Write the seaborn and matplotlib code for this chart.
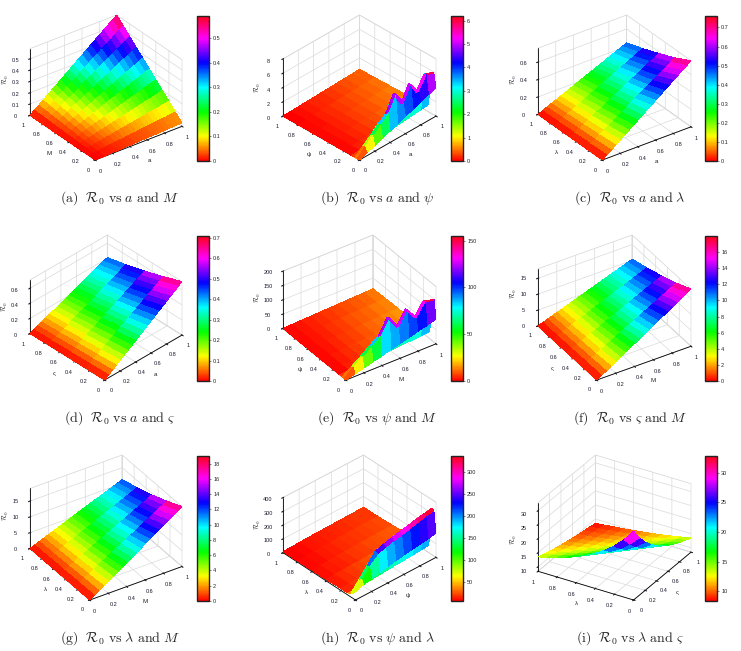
import itertools
import numpy as np
import matplotlib
matplotlib.use('Agg')
import matplotlib.pyplot as plt
import seaborn as sns
from mpl_toolkits.mplot3d import proj3d

sns.set_style('white')
plt.rcParams['mathtext.fontset'] = 'cm'
plt.rcParams['font.family'] = ['Liberation Sans', 'DejaVu Sans']
plt.rcParams['grid.color'] = '#dadada'
plt.rcParams['grid.linewidth'] = 0.5

W, H = 741, 651

# grids of the two inputs (right axis = x, left axis = y)
x21 = [0, 0.05, 0.1, 0.15, 0.2, 0.25, 0.3, 0.35, 0.4, 0.45, 0.5,
       0.55, 0.6, 0.65, 0.7, 0.75, 0.8, 0.85, 0.9, 0.95, 1.0]
x11 = [0, 0.1, 0.2, 0.3, 0.4, 0.5, 0.6, 0.7, 0.8, 0.9, 1.0]
y11 = [0, 0.1, 0.2, 0.3, 0.4, 0.5, 0.6, 0.7, 0.8, 0.9, 1.0]
y5 = [0, 0.25, 0.5, 0.75, 1.0]
y_steep = [0, 0.03, 0.06, 0.1, 0.2, 0.4, 0.6, 0.8, 1.0]

# R0 values (rows follow the y grid, columns the x grid)
z_a = [
    [0, .002, .003, .005, .006, .008, .009, .011, .012, .014, .015, .017, .018, .020, .021, .023, .024, .026, .027, .029, .030],
    [0, .004, .009, .013, .017, .022, .026, .030, .034, .039, .043, .047, .052, .056, .060, .065, .069, .073, .077, .082, .086],
    [0, .007, .014, .021, .028, .036, .043, .050, .057, .064, .071, .078, .085, .092, .099, .107, .114, .121, .128, .135, .142],
    [0, .010, .020, .030, .040, .050, .059, .069, .079, .089, .099, .109, .119, .129, .139, .149, .158, .168, .178, .188, .198],
    [0, .013, .025, .038, .051, .064, .076, .089, .102, .114, .127, .140, .152, .165, .178, .191, .203, .216, .229, .241, .254],
    [0, .016, .031, .047, .062, .078, .093, .109, .124, .140, .155, .171, .186, .202, .217, .233, .248, .264, .279, .295, .310],
    [0, .018, .037, .055, .073, .092, .110, .128, .146, .165, .183, .201, .220, .238, .256, .275, .293, .311, .329, .348, .366],
    [0, .021, .042, .063, .084, .106, .127, .148, .169, .190, .211, .232, .253, .274, .295, .317, .338, .359, .380, .401, .422],
    [0, .024, .048, .072, .096, .120, .143, .167, .191, .215, .239, .263, .287, .311, .335, .359, .382, .406, .430, .454, .478],
    [0, .027, .053, .080, .107, .134, .160, .187, .214, .240, .267, .294, .320, .347, .374, .401, .427, .454, .481, .507, .534],
    [0, .030, .059, .089, .118, .148, .177, .207, .236, .266, .295, .325, .354, .384, .413, .443, .472, .502, .531, .561, .590]]
z_b = [[0, 0.4, 0.8, 1.2, 1.6, 2.0, 2.4, 2.8, 3.2, 3.6, 4.0],
       [0, 1.0, 2.0, 3.0, 4.0, 6.0, 4.2, 6.1, 4.5, 6.2, 5.9],
       [0, 0.9, 1.8, 2.8, 3.6, 5.8, 3.8, 6.0, 4.2, 6.1, 5.7],
       [0, 0.1, 0.2, 0.3, 0.4, 0.5, 0.6, 0.7, 0.8, 0.9, 1.0],
       [0, 0.06, 0.13, 0.19, 0.26, 0.32, 0.38, 0.45, 0.51, 0.58, 0.64],
       [0, 0.06, 0.12, 0.17, 0.23, 0.29, 0.35, 0.41, 0.46, 0.52, 0.58],
       [0, 0.05, 0.10, 0.16, 0.21, 0.26, 0.31, 0.36, 0.42, 0.47, 0.52],
       [0, 0.05, 0.09, 0.14, 0.18, 0.23, 0.28, 0.32, 0.37, 0.41, 0.46],
       [0, 0.04, 0.08, 0.12, 0.16, 0.20, 0.24, 0.28, 0.32, 0.36, 0.40]]
z_c = [
    [0, .038, .076, .114, .152, .190, .228, .266, .304, .342, .380, .418, .456, .494, .532, .570, .608, .646, .684, .722, .760],
    [0, .033, .066, .099, .132, .165, .198, .231, .264, .297, .330, .363, .396, .429, .462, .495, .528, .561, .594, .627, .660],
    [0, .029, .058, .087, .116, .145, .174, .203, .232, .261, .290, .319, .348, .377, .406, .435, .464, .493, .522, .551, .580],
    [0, .025, .051, .076, .101, .126, .152, .177, .202, .227, .253, .278, .303, .328, .354, .379, .404, .429, .455, .480, .505],
    [0, .022, .044, .066, .088, .110, .132, .154, .176, .198, .220, .242, .264, .286, .308, .330, .352, .374, .396, .418, .440]]
z_d = [
    [0, .036, .071, .107, .142, .178, .213, .249, .284, .320, .355, .391, .426, .462, .497, .533, .568, .604, .639, .675, .710],
    [0, .031, .062, .093, .124, .155, .186, .217, .248, .279, .310, .341, .372, .403, .434, .465, .496, .527, .558, .589, .620],
    [0, .027, .054, .081, .108, .135, .162, .189, .216, .243, .270, .297, .324, .351, .378, .405, .432, .459, .486, .513, .540],
    [0, .024, .047, .071, .094, .118, .141, .165, .188, .212, .235, .259, .282, .306, .329, .353, .376, .400, .423, .447, .470],
    [0, .021, .041, .062, .082, .103, .123, .144, .164, .185, .205, .226, .246, .267, .287, .308, .328, .349, .369, .390, .410]]
z_e = [[0, 9, 17, 26, 34, 43, 52, 60, 69, 77, 86],
       [0, 25, 50, 75, 100, 150, 105, 152, 112, 155, 148],
       [0, 22, 45, 70, 92, 146, 98, 150, 105, 153, 143],
       [0, 2.5, 5, 7.5, 10, 12.5, 15, 17.5, 20, 22.5, 25],
       [0, 1.8, 3.7, 5.5, 7.4, 9.2, 11.0, 12.9, 14.7, 16.6, 18.4],
       [0, 1.7, 3.4, 5.0, 6.7, 8.4, 10.1, 11.8, 13.4, 15.1, 16.8],
       [0, 1.5, 3.0, 4.6, 6.1, 7.6, 9.1, 10.6, 12.2, 13.7, 15.2],
       [0, 1.4, 2.7, 4.1, 5.4, 6.8, 8.2, 9.5, 10.9, 12.2, 13.6],
       [0, 1.2, 2.4, 3.6, 4.8, 6.0, 7.2, 8.4, 9.6, 10.8, 12.0]]
z_f = [
    [0, 0.9, 1.8, 2.7, 3.6, 4.5, 5.4, 6.3, 7.2, 8.1, 9.0, 9.9, 10.8, 11.7, 12.6, 13.5, 14.4, 15.3, 16.2, 17.1, 18.0],
    [0, 0.78, 1.56, 2.34, 3.12, 3.90, 4.68, 5.46, 6.24, 7.02, 7.80, 8.58, 9.36, 10.14, 10.92, 11.70, 12.48, 13.26, 14.04, 14.82, 15.60],
    [0, 0.68, 1.36, 2.04, 2.72, 3.40, 4.08, 4.76, 5.44, 6.12, 6.80, 7.48, 8.16, 8.84, 9.52, 10.20, 10.88, 11.56, 12.24, 12.92, 13.60],
    [0, 0.60, 1.19, 1.79, 2.38, 2.98, 3.57, 4.17, 4.76, 5.36, 5.95, 6.55, 7.14, 7.74, 8.33, 8.93, 9.52, 10.12, 10.71, 11.31, 11.90],
    [0, 0.52, 1.04, 1.56, 2.08, 2.60, 3.12, 3.64, 4.16, 4.68, 5.20, 5.72, 6.24, 6.76, 7.28, 7.80, 8.32, 8.84, 9.36, 9.88, 10.40]]
z_g = [
    [0, 0.95, 1.9, 2.85, 3.8, 4.75, 5.7, 6.65, 7.6, 8.55, 9.5, 10.45, 11.4, 12.35, 13.3, 14.25, 15.2, 16.15, 17.1, 18.05, 19.0],
    [0, 0.83, 1.66, 2.49, 3.32, 4.15, 4.98, 5.81, 6.64, 7.47, 8.30, 9.13, 9.96, 10.79, 11.62, 12.45, 13.28, 14.11, 14.94, 15.77, 16.60],
    [0, 0.73, 1.45, 2.18, 2.90, 3.63, 4.35, 5.08, 5.80, 6.53, 7.25, 7.98, 8.70, 9.43, 10.15, 10.88, 11.60, 12.33, 13.05, 13.78, 14.50],
    [0, 0.64, 1.27, 1.91, 2.54, 3.18, 3.81, 4.45, 5.08, 5.72, 6.35, 6.99, 7.62, 8.26, 8.89, 9.53, 10.16, 10.80, 11.43, 12.07, 12.70],
    [0, 0.56, 1.12, 1.68, 2.24, 2.80, 3.36, 3.92, 4.48, 5.04, 5.60, 6.16, 6.72, 7.28, 7.84, 8.40, 8.96, 9.52, 10.08, 10.64, 11.20]]
z_h = [[60, 80, 95, 108, 120, 130, 140, 150, 158, 166, 175],
       [40, 110, 180, 230, 250, 265, 275, 290, 305, 320, 330],
       [30, 100, 170, 240, 260, 275, 290, 300, 315, 325, 335],
       [15, 18, 22, 26, 30, 34, 38, 42, 46, 50, 55],
       [15, 18, 21, 24, 27, 30, 33, 36, 39, 42, 45],
       [10, 13, 16, 18, 20, 22, 24, 26, 28, 30, 32],
       [9, 11, 13, 15, 17, 19, 21, 23, 24, 25, 26],
       [8, 10, 12, 14, 16, 17, 18, 19, 20, 21, 22],
       [8, 9, 11, 13, 14, 15, 16, 17, 18, 19, 20]]
z_i = [[32.8, 28.84, 25.62, 23.04, 20.93, 19.18, 17.70, 16.43, 15.33, 14.37, 13.52],
       [28.84, 25.62, 23.04, 20.93, 19.18, 17.70, 16.43, 15.33, 14.37, 13.52, 12.76],
       [25.62, 23.04, 20.93, 19.18, 17.70, 16.43, 15.33, 14.37, 13.52, 12.76, 12.09],
       [23.04, 20.93, 19.18, 17.70, 16.43, 15.33, 14.37, 13.52, 12.76, 12.09, 11.48],
       [20.93, 19.18, 17.70, 16.43, 15.33, 14.37, 13.52, 12.76, 12.09, 11.48, 10.94],
       [19.18, 17.70, 16.43, 15.33, 14.37, 13.52, 12.76, 12.09, 11.48, 10.94, 10.44],
       [17.70, 16.43, 15.33, 14.37, 13.52, 12.76, 12.09, 11.48, 10.94, 10.44, 9.98],
       [16.43, 15.33, 14.37, 13.52, 12.76, 12.09, 11.48, 10.94, 10.44, 9.98, 9.57],
       [15.33, 14.37, 13.52, 12.76, 12.09, 11.48, 10.94, 10.44, 9.98, 9.57, 9.18],
       [14.37, 13.52, 12.76, 12.09, 11.48, 10.94, 10.44, 9.98, 9.57, 9.18, 8.83],
       [13.52, 12.76, 12.09, 11.48, 10.94, 10.44, 9.98, 9.57, 9.18, 8.83, 8.4]]

tick01 = [0, 0.2, 0.4, 0.6, 0.8, 1]
zt_a = [0, 0.1, 0.2, 0.3, 0.4, 0.5]
ct_a = [0, 0.1, 0.2, 0.3, 0.4, 0.5]
zt_b = [0, 2, 4, 6, 8]
ct_b = [0, 1, 2, 3, 4, 5, 6]
zt_c = [0, 0.2, 0.4, 0.6]
ct_c = [0, 0.1, 0.2, 0.3, 0.4, 0.5, 0.6, 0.7]
zt_e = [0, 50, 100, 150, 200]
ct_e = [0, 50, 100, 150]
zt_f = [0, 5, 10, 15]
ct_f = [0, 2, 4, 6, 8, 10, 12, 14, 16]
ct_g = [0, 2, 4, 6, 8, 10, 12, 14, 16, 18]
zt_h = [0, 100, 200, 300, 400]
ct_h = [50, 100, 150, 200, 250, 300]
zt_i = [10, 15, 20, 25, 30]

captions = [
    r'$\mathrm{(a)}\ \ \mathcal{R}_0\ \mathrm{vs}\ a\ \mathrm{and}\ M$',
    r'$\mathrm{(b)}\ \ \mathcal{R}_0\ \mathrm{vs}\ a\ \mathrm{and}\ \psi$',
    r'$\mathrm{(c)}\ \ \mathcal{R}_0\ \mathrm{vs}\ a\ \mathrm{and}\ \lambda$',
    r'$\mathrm{(d)}\ \ \mathcal{R}_0\ \mathrm{vs}\ a\ \mathrm{and}\ \varsigma$',
    r'$\mathrm{(e)}\ \ \mathcal{R}_0\ \mathrm{vs}\ \psi\ \mathrm{and}\ M$',
    r'$\mathrm{(f)}\ \ \mathcal{R}_0\ \mathrm{vs}\ \varsigma\ \mathrm{and}\ M$',
    r'$\mathrm{(g)}\ \ \mathcal{R}_0\ \mathrm{vs}\ \lambda\ \mathrm{and}\ M$',
    r'$\mathrm{(h)}\ \ \mathcal{R}_0\ \mathrm{vs}\ \psi\ \mathrm{and}\ \lambda$',
    r'$\mathrm{(i)}\ \ \mathcal{R}_0\ \mathrm{vs}\ \lambda\ \mathrm{and}\ \varsigma$',
]

panels = [
    dict(x=x21, y=y11, z=z_a, xl='a', yl='M', zlim=(0, 0.59), zt=zt_a, ct=ct_a, view=(31, -127)),
    dict(x=x11, y=y_steep, z=z_b, xl='a', yl='ψ', zlim=(0, 8), zt=zt_b, ct=ct_b, view=(35, -135)),
    dict(x=x21, y=y5, z=z_c, xl='a', yl='λ', zlim=(0, 0.76), zt=zt_c, ct=ct_c, view=(31, -126)),
    dict(x=x21, y=y5, z=z_d, xl='a', yl='ς', zlim=(0, 0.71), zt=zt_c, ct=ct_c, view=(37, -134)),
    dict(x=x11, y=y_steep, z=z_e, xl='M', yl='ψ', zlim=(0, 200), zt=zt_e, ct=ct_e, view=(35, -125)),
    dict(x=x21, y=y5, z=z_f, xl='M', yl='ς', zlim=(0, 18), zt=zt_f, ct=ct_f, view=(35, -122)),
    dict(x=x21, y=y5, z=z_g, xl='M', yl='λ', zlim=(0, 19), zt=zt_f, ct=ct_g, view=(34, -123)),
    dict(x=x11, y=y_steep, z=z_h, xl='ψ', yl='λ', zlim=(0, 400), zt=zt_h, ct=ct_h, view=(36, -132)),
    dict(x=x11, y=y11, z=z_i, xl='ς', yl='λ', zlim=(8.4, 32.8), zt=zt_i, ct=zt_i, view=(30, -149)),
]

# pixel boxes (left, right, top, bottom) the 3D cube should fill
box_cols = [(30, 182), (283, 436), (538, 691)]
box_rows = [(15, 160), (235, 380), (455, 600)]
cbar_x = [197, 451, 705]
cbar_y = [16, 236, 456]
cap_x = [120, 377, 630]
cap_y = [198, 418, 638]

cmap = sns.color_palette('hsv', as_cmap=True)

fig = plt.figure(figsize=(W / 100, H / 100), dpi=100)
axes = []
targets = []
for k, p in enumerate(panels):
    r, c = divmod(k, 3)
    tx0, tx1 = box_cols[c]
    ty0, ty1 = box_rows[r]
    elev, azim = p['view']
    e, f = np.radians(elev), np.radians(azim)
    spread = abs(np.sin(f)) + abs(np.cos(f))
    zasp = ((ty1 - ty0) / (tx1 - tx0) - np.sin(e)) * spread / np.cos(e)

    ax = fig.add_axes([tx0 / W, 1 - ty1 / H, (tx1 - tx0) / W, (ty1 - ty0) / H],
                      projection='3d')
    ax.patch.set_alpha(0)
    ax.set_proj_type('ortho')
    ax.view_init(elev=elev, azim=azim)
    ax.set_box_aspect((1, 1, zasp))

    X, Y = np.meshgrid(p['x'], p['y'])
    Z = np.array(p['z'], dtype=float)
    surf = ax.plot_surface(X, Y, Z, cmap=cmap, vmin=Z.min(), vmax=Z.max(),
                           rstride=1, cstride=1, linewidth=0, antialiased=False)
    ax.set_xlim(0, 1)
    ax.set_ylim(0, 1)
    ax.set_zlim(*p['zlim'])
    ax.set_xticks(tick01)
    ax.set_yticks(tick01)
    ax.set_zticks(p['zt'])
    ax.set_xticklabels([f'{t:g}' for t in tick01])
    ax.set_yticklabels([f'{t:g}' for t in tick01])
    ax.set_zticklabels([f'{t:g}' for t in p['zt']])
    ax.tick_params(axis='both', labelsize=4, pad=-3, colors='#1a1a2e')
    ax.tick_params(axis='z', labelsize=4, pad=-2, colors='#1a1a2e')
    for axis in (ax.xaxis, ax.yaxis, ax.zaxis):
        axis.set_pane_color((1, 1, 1, 1))
        axis.pane.set_edgecolor('#d4d4d4')
        axis.pane.set_linewidth(0.5)
        axis.line.set_color('black')
        axis.line.set_linewidth(0.6)
        axis._axinfo['grid'].update(color='#dadada', linewidth=0.5)
    ax.set_xlabel(p['xl'], fontsize=4.5, labelpad=-11)
    ax.set_ylabel(p['yl'], fontsize=4.5, labelpad=-11)
    ax.set_zlabel(r'$\mathcal{R}_0$', fontsize=5, labelpad=-11)

    cax = fig.add_axes([cbar_x[c] / W, 1 - (cbar_y[r] + 145) / H, 12 / W, 145 / H])
    cb = fig.colorbar(surf, cax=cax, ticks=p['ct'])
    cb.set_ticklabels([f'{t:g}' for t in p['ct']])
    cb.ax.tick_params(labelsize=4, length=1.5, width=0.4, pad=1.5)
    cb.outline.set_linewidth(1.0)
    cb.outline.set_edgecolor('#222222')

    fig.text(cap_x[c] / W, 1 - cap_y[r] / H, captions[k], ha='center', va='center',
             fontsize=10)
    axes.append(ax)
    targets.append((tx0, tx1, ty0, ty1))


def cube_pixels(ax):
    lims = [ax.get_xlim3d(), ax.get_ylim3d(), ax.get_zlim3d()]
    pts = np.array(list(itertools.product(*lims)), dtype=float)
    xs, ys, _ = proj3d.proj_transform(pts[:, 0], pts[:, 1], pts[:, 2], ax.get_proj())
    return ax.transData.transform(np.column_stack([xs, ys]))


# move/scale each 3D axes so the drawn cube lands on its target box
fig.canvas.draw()
for ax, (tx0, tx1, ty0, ty1) in zip(axes, targets):
    px = cube_pixels(ax)
    bb = ax.get_position()
    side = bb.width * W
    cx = (bb.x0 + bb.width / 2) * W
    cy = (bb.y0 + bb.height / 2) * H
    bx = (px[:, 0].min() + px[:, 0].max()) / 2
    by = (px[:, 1].min() + px[:, 1].max()) / 2
    s = (tx1 - tx0) / (px[:, 0].max() - px[:, 0].min())
    ncx = (tx0 + tx1) / 2 - s * (bx - cx)
    ncy = H - (ty0 + ty1) / 2 - s * (by - cy)
    nside = s * side
    ax.set_position([(ncx - nside / 2) / W, (ncy - nside / 2) / H, nside / W, nside / H])

fig.savefig('out.png', dpi=100)
